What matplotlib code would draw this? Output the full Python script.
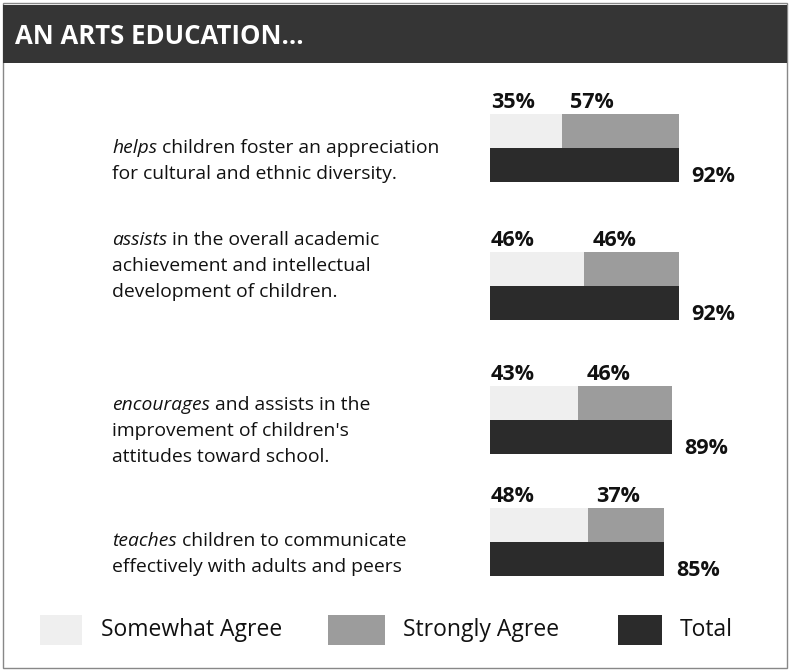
import matplotlib
matplotlib.use("Agg")
import matplotlib.pyplot as plt
from matplotlib.patches import Rectangle

# survey data (percent)
lead_words = ["helps", "assists", "encourages", "teaches"]
statements = [
    ["children foster an appreciation", "for cultural and ethnic diversity."],
    ["in the overall academic", "achievement and intellectual", "development of children."],
    ["and assists in the", "improvement of children's", "attitudes toward school."],
    ["children to communicate", "effectively with adults and peers"],
]
somewhat = [35, 46, 43, 48]
strongly = [57, 46, 46, 37]
total = [92, 92, 89, 85]
series_names = ["Somewhat Agree", "Strongly Agree", "Total"]

col_some = "#efefef"
col_strong = "#9c9c9c"
col_total = "#2b2b2b"

W, H = 791, 671
plt.rcParams["font.family"] = ["Open Sans", "DejaVu Sans"]

fig = plt.figure(figsize=(W / 100, H / 100), dpi=100)

# overlay axes in pixel units for frame, title and captions
ax = fig.add_axes([0, 0, 1, 1])
ax.set_xlim(0, W)
ax.set_ylim(H, 0)
ax.axis("off")

ax.add_patch(Rectangle((3, 3), 784, 665, fill=False, ec="#888888", lw=1.0))
ax.add_patch(Rectangle((3, 5), 784, 58, fc="#353535", ec="none"))
ax.text(15, 36, "AN ARTS EDUCATION...", color="white", fontsize=18.5,
        fontweight="bold", va="center", ha="left")

# bar axes, x in percent
bx = fig.add_axes([490 / W, 0, 205 / W, 1])
bx.set_xlim(0, 100)
bx.set_ylim(H, 0)
bx.axis("off")

row_mid = [148, 286, 420, 542]  # boundary between upper and lower bar (px)
bh = 34
text_top = [148, 240, 405, 541]
line_gap = 26
fs = 13.9
fs_pct = 15.5

renderer = fig.canvas.get_renderer()
for i in range(len(total)):
    y = row_mid[i]
    bx.barh(y - bh / 2, somewhat[i], height=bh, color=col_some)
    bx.barh(y - bh / 2, strongly[i], left=somewhat[i], height=bh, color=col_strong)
    bx.barh(y + bh / 2, total[i], height=bh, color=col_total)

    bx.text(0.5, y - bh - 12, f"{somewhat[i]}%", fontsize=fs_pct, fontweight="bold",
            ha="left", va="center", color="#111111")
    bx.text(somewhat[i] + 4, y - bh - 12, f"{strongly[i]}%", fontsize=fs_pct,
            fontweight="bold", ha="left", va="center", color="#111111")
    bx.text(total[i] + 6, y + bh - 6, f"{total[i]}%", fontsize=fs_pct,
            fontweight="bold", ha="left", va="center", color="#111111")

    # caption with italic lead word
    for j, line in enumerate(statements[i]):
        ty = text_top[i] + j * line_gap
        x0 = 112
        if j == 0:
            t = ax.text(x0, ty, lead_words[i], fontsize=fs, style="italic",
                        ha="left", va="center", color="#111111")
            x0 += t.get_window_extent(renderer).width + 5
        ax.text(x0, ty, line, fontsize=fs, ha="left", va="center", color="#111111")

# legend swatches
legend_x = [40, 328, 618]
legend_w = [42, 57, 44]
legend_tx = [101, 403, 680]
for c, lx, lw, tx, name in zip([col_some, col_strong, col_total], legend_x, legend_w,
                               legend_tx, series_names):
    ax.add_patch(Rectangle((lx, 615), lw, 30, fc=c, ec="none"))
    ax.text(tx, 630, name, fontsize=16.5, ha="left", va="center", color="#111111")

fig.savefig("out.png", dpi=100)
